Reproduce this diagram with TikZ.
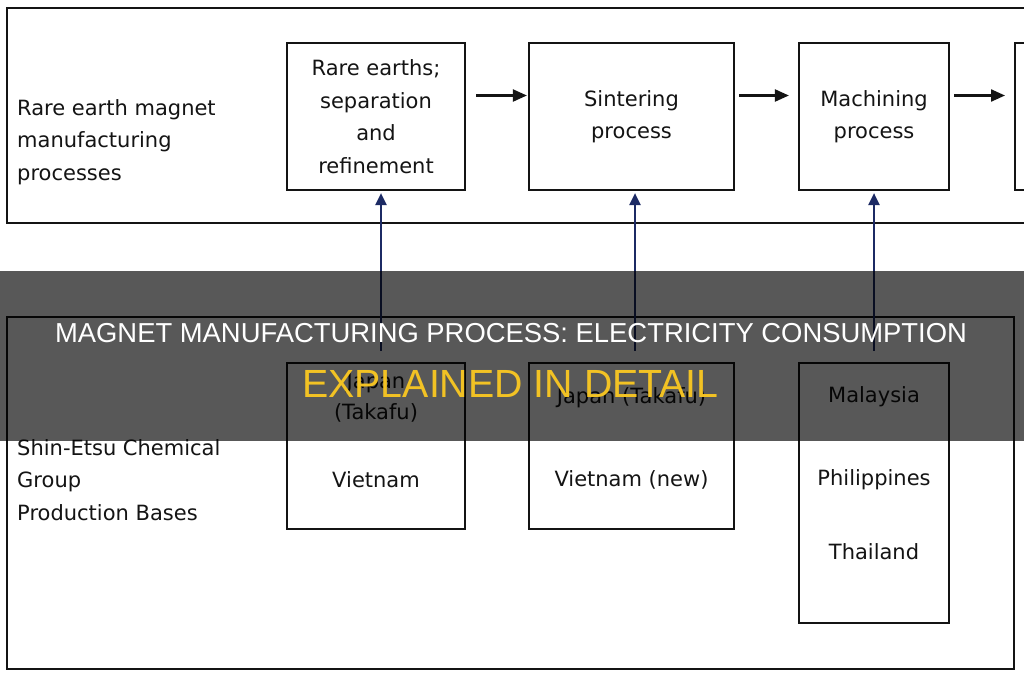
\documentclass[tikz,border=0pt]{standalone}
\usepackage{fontspec}
\setmainfont{DejaVu Sans}
\newfontfamily\bannerfont{Liberation Sans}
\usetikzlibrary{arrows.meta}
\definecolor{navyline}{RGB}{28,42,100}
\definecolor{banneryellow}{RGB}{242,194,36}
\definecolor{inkblack}{RGB}{20,20,20}
\tikzset{
  procbox/.style={draw=inkblack, line width=2.2pt, fill=white, inner sep=0pt},
  frame/.style={draw=inkblack, line width=2pt},
  txt/.style={text=inkblack, font=\fontsize{21}{32.5}\selectfont, inner sep=0pt},
  flow/.style={draw=inkblack, line width=2.2pt, -{Triangle[length=14pt,width=12pt]}},
  supply/.style={draw=navyline, line width=2.2pt, -{Triangle[length=12pt,width=11pt]}},
  bannertxt/.style={inner sep=0pt, font=\bannerfont}
}
\begin{document}
\begin{tikzpicture}[x=1pt,y=-1pt]
\useasboundingbox (0,0) rectangle (1024,680);
\fill[white] (0,0) rectangle (1024,680);

% outer frames
\draw[frame] (1040,8) -- (7,8) -- (7,223) -- (1040,223);
\draw[frame] (7,317) rectangle (1014,669);

% left labels
\node[txt, align=left, anchor=west] (lblTop) at (17,142) {Rare earth magnet\\manufacturing\\processes};
\node[txt, align=left, anchor=west] (lblBot) at (17,480) {Shin-Etsu Chemical\\Group\\Production Bases};

% upper process boxes
\node[procbox, minimum width=178pt, minimum height=147pt] (p1) at (376,116.5) {};
\node[txt, align=center] (p1t) at (376,116.5) {Rare earths;\\separation\\and\\refinement};
\node[procbox, minimum width=205pt, minimum height=147pt] (p2) at (631.5,116.5) {};
\node[txt, align=center] (p2t) at (631.5,116.5) {Sintering\\process};
\node[procbox, minimum width=150pt, minimum height=147pt] (p3) at (874,116.5) {};
\node[txt, align=center] (p3t) at (874,116.5) {Machining\\process};
\node[procbox, minimum width=60pt, minimum height=147pt, anchor=west] (p4) at (1014,116.5) {};

% flow arrows
\draw[flow] ([xshift=10pt,yshift=21pt]p1.east) -- ([xshift=-1pt,yshift=21pt]p2.west);
\draw[flow] ([xshift=4pt,yshift=21pt]p2.east) -- ([xshift=-9pt,yshift=21pt]p3.west);
\draw[flow] ([xshift=4pt,yshift=21pt]p3.east) -- ([xshift=-9pt,yshift=21pt]p4.west);

% lower base boxes
\node[procbox, minimum width=178pt, minimum height=166pt] (b1) at (376,446) {};
\node[txt] (b1a) at (376,383) {Japan};
\node[txt] (b1b) at (376,413) {(Takafu)};
\node[txt] (b1c) at (376,480) {Vietnam};
\node[procbox, minimum width=205pt, minimum height=166pt] (b2) at (631.5,446) {};
\node[txt] (b2a) at (631.5,398) {Japan (Takafu)};
\node[txt] (b2b) at (631.5,480) {Vietnam (new)};
\node[procbox, minimum width=150pt, minimum height=260pt] (b3) at (874,493) {};
\node[txt] (b3a) at (874,397) {Malaysia};
\node[txt] (b3b) at (874,480) {Philippines};
\node[txt] (b3c) at (874,552) {Thailand};

% supply arrows
\draw[supply] ([xshift=5pt,yshift=11pt]b1.north) -- ([xshift=5pt,yshift=-2pt]p1.south);
\draw[supply] ([xshift=3.5pt,yshift=11pt]b2.north) -- ([xshift=3.5pt,yshift=-2pt]p2.south);
\draw[supply] ([yshift=11pt]b3.north) -- ([yshift=-2pt]p3.south);

% title banner
\fill[black, opacity=0.655] (0,271) rectangle (1024,441);
\node[bannertxt, text=white, font=\bannerfont\fontsize{27.4}{30}\selectfont] (title1) at (511,333) {MAGNET MANUFACTURING PROCESS: ELECTRICITY CONSUMPTION};
\node[bannertxt, text=banneryellow, font=\bannerfont\fontsize{39.3}{42}\selectfont] (title2) at (510.5,383.5) {EXPLAINED IN DETAIL};
\end{tikzpicture}
\end{document}
